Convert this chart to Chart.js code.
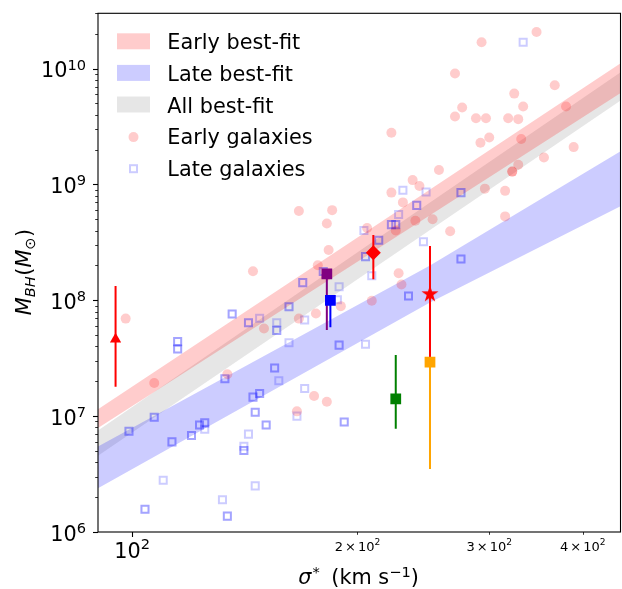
<!DOCTYPE html>
<html>
<head>
<meta charset="utf-8">
<script src="https://cdn.jsdelivr.net/npm/chart.js@4.4.1/dist/chart.umd.min.js"></script>
<style>
  html, body { margin: 0; padding: 0; background: #ffffff; }
  #wrap { width: 622px; height: 589px; }
</style>
</head>
<body>
<div id="wrap"><canvas id="c" width="622" height="589"></canvas></div>
<script>
// ---- Early-type galaxies: velocity dispersion (km/s) and black-hole mass (Msun)
const earlySigma = [347, 293, 270, 367, 324, 380, 276, 333, 270, 288,
                    297, 318, 328, 292, 300, 331, 389, 222, 355, 328,
                    257, 322, 322, 237, 242, 222, 296, 315, 185, 230,
                    239, 252, 315, 225, 266, 206, 183, 227, 229, 209,
                    190, 167, 182, 145, 177, 98, 150, 167, 176, 134,
                    107, 175, 182, 166];
const earlyMass = [2.07e10, 1.69e10, 9.06e9, 7.18e9, 6.08e9, 4.7e9, 4.61e9, 4.7e9, 3.86e9, 3.73e9,
                   3.73e9, 3.73e9, 3.66e9, 2.29e9, 2.54e9, 2.47e9, 2.1e9, 2.79e9, 1.71e9, 1.48e9,
                   1.33e9, 1.29e9, 1.29e9, 1.09e9, 9.7e8, 8.5e8, 9.2e8, 8.8e8, 6.0e8, 7.0e8,
                   4.86e8, 5.0e8, 5.3e8, 4.0e8, 3.95e8, 4.2e8, 2.72e8, 1.71e8, 1.37e8, 9.9e7,
                   8.9e7, 5.9e8, 4.6e8, 1.78e8, 2.01e8, 6.95e7, 5.7e7, 6.95e7, 7.7e7, 2.3e7,
                   1.93e7, 1.49e7, 1.33e7, 1.1e7];

// ---- Late-type galaxies (objects listed twice appear in both sub-samples)
const lateSigma = [333, 230, 247, 275, 275, 240, 240, 227, 222, 222,
                   225, 225, 204, 213.5, 213.5, 245, 205, 205, 275, 275,
                   209, 189, 234, 234, 188, 189, 189, 205, 180, 180,
                   169, 169, 136, 136, 143, 143, 148, 156, 156, 156,
                   162, 162, 170, 162, 115, 115, 115, 115, 155, 155,
                   133, 133, 157, 170, 166, 148, 148, 145, 145, 146,
                   146, 151, 151, 143, 141, 141, 141, 146, 132, 134,
                   134, 104, 104, 110, 99, 99, 107, 107, 113, 113,
                   120, 120, 123, 123, 125, 125, 125, 192, 192];
const lateMass = [1.69e10, 8.9e8, 8.6e8, 8.5e8, 8.5e8, 6.6e8, 6.6e8, 5.5e8, 4.5e8, 4.5e8,
                  4.5e8, 4.5e8, 4.0e8, 3.3e8, 3.3e8, 3.2e8, 2.38e8, 2.38e8, 2.27e8, 2.27e8,
                  1.63e8, 1.31e8, 1.09e8, 1.09e8, 1.01e8, 4.1e7, 4.1e7, 4.18e7, 1.77e8, 1.77e8,
                  1.42e8, 1.42e8, 7.62e7, 7.62e7, 6.4e7, 6.4e7, 7.0e7, 6.4e7, 5.5e7, 5.5e7,
                  8.8e7, 8.8e7, 6.76e7, 4.3e7, 4.4e7, 4.4e7, 3.8e7, 3.8e7, 2.6e7, 2.6e7,
                  2.1e7, 2.1e7, 2.02e7, 1.73e7, 1.0e7, 1.57e7, 1.57e7, 1.46e7, 1.46e7, 1.08e7,
                  1.08e7, 8.4e6, 8.4e6, 7.0e6, 5.5e6, 5.06e6, 5.06e6, 2.5e6, 1.9e6, 1.37e6,
                  1.37e6, 1.57e6, 1.57e6, 2.8e6, 7.4e6, 7.4e6, 9.8e6, 9.8e6, 6.0e6, 6.0e6,
                  6.8e6, 6.8e6, 8.4e6, 8.4e6, 8.75e6, 8.75e6, 7.7e6, 8.9e6, 8.9e6];

// ---- Best-fit relations: upper / lower envelope of each band
const bandSigma  = [90, 250, 450];
const earlyFitHi = [1.148e7, 9.04e8, 1.117e10];
const earlyFitLo = [7.89e6, 5.43e8, 6.17e9];
const lateFitHi  = [5.47e6, 2.0e8, 1.94e9];
const lateFitLo  = [2.39e6, 9.55e7, 6.5e8];
const allFitHi   = [7.52e6, 6.97e8, 9.35e9];
const allFitLo   = [4.55e6, 4.05e8, 5.33e9];

// ---- Individual objects with error bars
const objSigma = [95, 182, 184, 210, 250, 250, 225];
const objMass  = [4.6e7, 1.69e8, 1.0e8, 2.57e8, 1.13e8, 2.93e7, 1.41e7];
const objLow   = [1.79e7, 5.55e7, 5.85e7, 1.52e8, 3.1e7, 3.5e6, 7.8e6];
const objHigh  = [1.33e8, 1.75e8, 1.11e8, 3.66e8, 2.94e8, 3.2e7, 3.37e7];

// ---- Axis ticks
const xMajorTicks = [100];
const xMinorTicks = [200, 300, 400];
const yMajorTicks = [1e6, 1e7, 1e8, 1e9, 1e10];

// ---------------------------------------------------------------------
const FONT = '"DejaVu Sans", sans-serif';
const FS = 20.8;       // main text size
const SS = 14.6;       // superscript size

function filledStar(r, color) {
  const s = Math.ceil(2 * r + 2);
  const c = document.createElement('canvas');
  c.width = s; c.height = s;
  const g = c.getContext('2d');
  g.fillStyle = color;
  g.beginPath();
  for (let i = 0; i < 10; i++) {
    const rad = (i % 2) ? r * 0.382 : r;
    const a = -Math.PI / 2 + i * Math.PI / 5;
    g.lineTo(s / 2 + rad * Math.cos(a), s / 2 + rad * Math.sin(a));
  }
  g.closePath();
  g.fill();
  return c;
}

const objStyles = [
  { color: 'red',    shape: 'triangle', r: 6.5 },
  { color: 'purple', shape: 'rect',     r: 7.6 },
  { color: 'blue',   shape: 'rect',     r: 7.6 },
  { color: 'red',    shape: 'rectRot',  r: 7.5 },
  { color: 'red',    shape: filledStar(9, 'red'), r: 9 },
  { color: 'orange', shape: 'rect',     r: 7.6 },
  { color: 'green',  shape: 'rect',     r: 7.6 }
];

const EARLY_FILL = 'rgba(255,0,0,0.2)';
const LATE_FILL  = 'rgba(0,0,255,0.2)';
const ALL_FILL   = 'rgba(128,128,128,0.2)';

function zip(xs, ys) {
  const n = Math.min(xs.length, ys.length);
  const out = [];
  for (let i = 0; i < n; i++) out.push({ x: xs[i], y: ys[i] });
  return out;
}

function bandPair(hi, lo, fillColor) {
  return [
    { type: 'line', data: zip(bandSigma, hi), fill: '+1', backgroundColor: fillColor,
      borderColor: 'rgba(0,0,0,0)', borderWidth: 0, pointRadius: 0, tension: 0, order: 50 },
    { type: 'line', data: zip(bandSigma, lo), fill: false,
      borderColor: 'rgba(0,0,0,0)', borderWidth: 0, pointRadius: 0, tension: 0, order: 50 }
  ];
}

const datasets = [];
datasets.push(...bandPair(earlyFitHi, earlyFitLo, EARLY_FILL));
datasets.push(...bandPair(lateFitHi, lateFitLo, LATE_FILL));
datasets.push(...bandPair(allFitHi, allFitLo, ALL_FILL));

datasets.push({
  type: 'scatter', label: 'Early galaxies', data: zip(earlySigma, earlyMass),
  pointStyle: 'circle', pointRadius: 5, backgroundColor: 'rgba(255,0,0,0.2)',
  borderWidth: 0, order: 40
});
datasets.push({
  type: 'scatter', label: 'Late galaxies', data: zip(lateSigma, lateMass),
  pointStyle: 'rect', pointRadius: 5, backgroundColor: 'rgba(0,0,0,0)',
  borderColor: 'rgba(0,0,255,0.2)', borderWidth: 2, order: 40
});

// error bars
objSigma.forEach((s, i) => {
  datasets.push({
    type: 'line', data: [{ x: s, y: objLow[i] }, { x: s, y: objHigh[i] }],
    borderColor: objStyles[i].color, borderWidth: 2, pointRadius: 0, fill: false,
    order: 20 + (i === 5 ? 1 : 0)
  });
});
// markers
objSigma.forEach((s, i) => {
  const st = objStyles[i];
  datasets.push({
    type: 'scatter', data: [{ x: s, y: objMass[i] }],
    pointStyle: st.shape, pointRadius: st.r, backgroundColor: st.color,
    borderWidth: 0, order: 10
  });
});

// ---- axes, labels and legend
function drawPow(ctx, base, exp, x, yBase, yExp, fb, fe, align) {
  ctx.font = fb + 'px ' + FONT;
  const wb = ctx.measureText(base).width;
  ctx.font = fe + 'px ' + FONT;
  const we = ctx.measureText(exp).width;
  let start;
  if (align === 'right') start = x - wb - we;
  else start = x - (wb + we) / 2;
  ctx.textAlign = 'left';
  ctx.font = fb + 'px ' + FONT;
  ctx.fillText(base, start, yBase);
  ctx.font = fe + 'px ' + FONT;
  ctx.fillText(exp, start + wb, yExp);
}

// draws a sequence of [text, font, dy, gapAfter] pieces starting at x
function drawPieces(ctx, pieces, x, y) {
  let cx = x;
  for (const p of pieces) {
    ctx.font = p[1];
    ctx.fillText(p[0], cx, y + (p[2] || 0));
    cx += ctx.measureText(p[0]).width + (p[3] || 0);
  }
}
function piecesWidth(ctx, pieces) {
  let w = 0;
  for (const p of pieces) { ctx.font = p[1]; w += ctx.measureText(p[0]).width + (p[3] || 0); }
  return w;
}

const decor = {
  id: 'decor',
  afterDraw(chart) {
    const { ctx, chartArea: a, scales: { x, y } } = chart;
    ctx.save();
    ctx.fillStyle = '#000';
    ctx.strokeStyle = '#000';
    ctx.textBaseline = 'alphabetic';

    // frame
    ctx.lineWidth = 1.1;
    ctx.strokeRect(a.left, a.top, a.right - a.left - 0.5, a.bottom - a.top);

    // y ticks
    const yMin = y.min, yMax = y.max;
    for (let e = 6; e <= 10; e++) {
      for (let k = 1; k <= 9; k++) {
        const v = k * Math.pow(10, e);
        if (v < yMin || v > yMax) continue;
        const py = Math.round(y.getPixelForValue(v)) + 0.5;
        const len = k === 1 ? 5 : 2.8;
        ctx.lineWidth = k === 1 ? 1.1 : 0.8;
        ctx.beginPath(); ctx.moveTo(a.left, py); ctx.lineTo(a.left - len, py); ctx.stroke();
      }
    }
    yMajorTicks.forEach(v => {
      const py = y.getPixelForValue(v);
      drawPow(ctx, '10', String(Math.round(Math.log10(v))), 86, py + 8.5, py + 1, FS, SS, 'right');
    });

    // x ticks
    xMajorTicks.concat(xMinorTicks).forEach(v => {
      const px = Math.round(x.getPixelForValue(v)) + 0.5;
      const major = xMajorTicks.includes(v);
      ctx.lineWidth = major ? 1.1 : 0.8;
      ctx.beginPath(); ctx.moveTo(px, a.bottom); ctx.lineTo(px, a.bottom + (major ? 5 : 2.8)); ctx.stroke();
    });
    xMajorTicks.forEach(v => {
      const px = x.getPixelForValue(v);
      drawPow(ctx, '10', String(Math.round(Math.log10(v))), px, 557.7, 549, FS, SS, 'center');
    });
    xMinorTicks.forEach(v => {
      const px = x.getPixelForValue(v);
      const e = Math.floor(Math.log10(v));
      const m = Math.round(v / Math.pow(10, e));
      const fb = '13px ' + FONT, fe = '9.1px ' + FONT;
      const pieces = [[String(m), fb, 0, 2], ['\u00d7', fb, 0, 2], ['10', fb, 0, 0], [String(e), fe, -6.2, 0]];
      ctx.textAlign = 'left';
      const w = piecesWidth(ctx, pieces);
      drawPieces(ctx, pieces, px - w / 2, 550.7);
    });

    // x title: sigma* (km s^-1)
    {
      const fr = FS + 'px ' + FONT, fi = 'italic ' + FS + 'px ' + FONT, fs = SS + 'px ' + FONT;
      const pieces = [['\u03c3', fi, 0, 1], ['*', fs, -7, 5], [' (km s', fr, 0, 0], ['\u22121', fs, -7, 0], [')', fr, 0, 0]];
      ctx.textAlign = 'left';
      const w = piecesWidth(ctx, pieces);
      drawPieces(ctx, pieces, 358.5 - w / 2, 584);
    }

    // y title: M_BH (M_sun)
    {
      const fr = FS + 'px ' + FONT, fi = 'italic ' + FS + 'px ' + FONT;
      const fsi = 'italic ' + SS + 'px ' + FONT, fs = SS + 'px ' + FONT;
      const pieces = [['M', fi, 0, 0], ['BH', fsi, 4, 0.5], ['(', fr, 0, 0], ['M', fi, 0, 0], ['\u2299', fs, 4, 0.5], [')', fr, 0, 0]];
      ctx.save();
      ctx.translate(31, 272);
      ctx.rotate(-Math.PI / 2);
      ctx.textAlign = 'left';
      const w = piecesWidth(ctx, pieces);
      drawPieces(ctx, pieces, -w / 2, 0);
      ctx.restore();
    }

    // legend
    const rows = [
      ['Early best-fit', 'patch', EARLY_FILL],
      ['Late best-fit', 'patch', LATE_FILL],
      ['All best-fit', 'patch', ALL_FILL],
      ['Early galaxies', 'circle', 'rgba(255,0,0,0.2)'],
      ['Late galaxies', 'square', 'rgba(0,0,255,0.2)']
    ];
    rows.forEach((r, i) => {
      const cy = 41.3 + i * 31.6;
      if (r[1] === 'patch') {
        ctx.fillStyle = r[2];
        ctx.fillRect(117, cy - 8, 33, 16);
      } else if (r[1] === 'circle') {
        ctx.fillStyle = r[2];
        ctx.beginPath(); ctx.arc(133.5, cy + 1, 5, 0, Math.PI * 2); ctx.fill();
      } else {
        ctx.strokeStyle = r[2]; ctx.lineWidth = 2;
        ctx.strokeRect(130, cy - 2.5, 7, 7);
      }
      ctx.fillStyle = '#000';
      ctx.font = FS + 'px ' + FONT;
      ctx.textAlign = 'left';
      ctx.fillText(r[0], 167.3, cy + 8);
    });

    ctx.restore();
  }
};

new Chart(document.getElementById('c'), {
  type: 'scatter',
  data: { datasets },
  options: {
    responsive: false,
    animation: false,
    events: [],
    layout: { autoPadding: false, padding: { left: 98, right: 1, top: 13.3, bottom: 57 } },
    plugins: { legend: { display: false }, tooltip: { enabled: false } },
    scales: {
      x: { type: 'logarithmic', min: 90, max: 450, display: false },
      y: { type: 'logarithmic', min: 1e6, max: 3e10, display: false }
    }
  },
  plugins: [decor]
});
</script>
</body>
</html>
